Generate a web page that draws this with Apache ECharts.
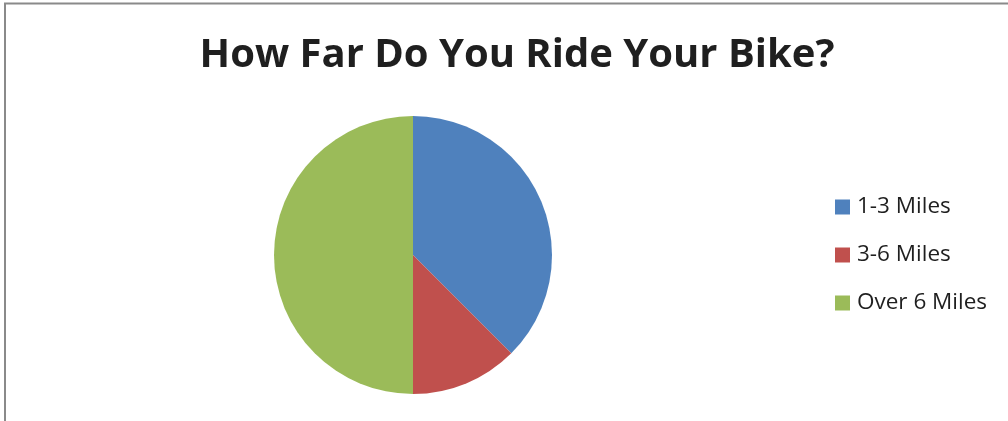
<!DOCTYPE html>
<html><head><meta charset="utf-8">
<script src="https://cdn.jsdelivr.net/npm/echarts@6/dist/echarts.min.js"></script>
<style>html,body{margin:0;padding:0;background:#fff}#c{width:1008px;height:421px}</style>
</head><body><div id="c"></div>
<script>
const title = 'How Far Do You Ride Your Bike?';
const categories = ['1-3 Miles', '3-6 Miles', 'Over 6 Miles'];
const values = [3, 1, 4];
const colors = ['#4F81BD', '#C0504D', '#9BBB59'];

const chart = echarts.init(document.getElementById('c'), null, {renderer: 'canvas'});
chart.setOption({
  animation: false,
  backgroundColor: '#fff',
  title: {
    text: title, left: 512, top: 31, textAlign: 'center',
    textStyle: {fontFamily: 'Open Sans', fontWeight: 'bold', fontSize: 40, color: '#1f1f1f'}
  },
  legend: {
    orient: 'vertical', left: 835, top: 195, itemGap: 24, itemWidth: 15, itemHeight: 15,
    icon: 'rect', padding: 0,
    textStyle: {fontFamily: 'Open Sans', fontSize: 22.5, lineHeight: 24, color: '#1f1f1f', padding: [0, 0, 0, 2]},
    data: categories
  },
  graphic: [
    {type: 'line', shape: {x1: 4, y1: 3.5, x2: 1008, y2: 3.5}, style: {stroke: '#8a8a8a', lineWidth: 2}},
    {type: 'line', shape: {x1: 5, y1: 3, x2: 5, y2: 421}, style: {stroke: '#8a8a8a', lineWidth: 2}}
  ],
  series: [{
    type: 'pie', center: [413, 255], radius: 139, startAngle: 90, clockwise: true,
    label: {show: false}, labelLine: {show: false},
    itemStyle: {borderWidth: 0},
    emphasis: {disabled: true},
    data: categories.map((n, i) => ({name: n, value: values[i], itemStyle: {color: colors[i]}}))
  }]
});
</script></body></html>
